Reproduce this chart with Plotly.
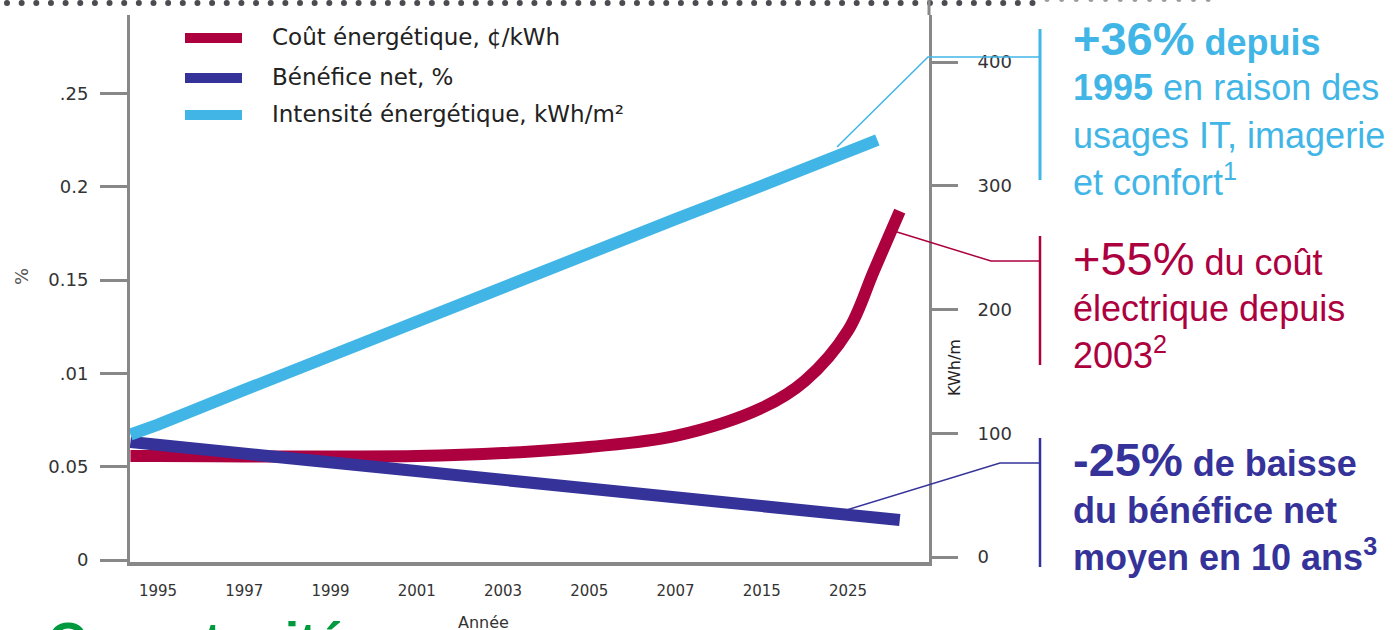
import plotly.graph_objects as go

# ---------------- data ----------------
years = ["1995", "1997", "1999", "2001", "2003", "2005", "2007", "2015", "2025"]
year_pos = [0, 1, 2, 3, 4, 5, 6, 7, 8]

# Intensité énergétique, kWh/m² (right axis)
intensity_x = [-0.32, 0, 1, 2, 3, 4, 5, 6, 7, 8, 8.34]
intensity_y = [99, 107, 135, 163, 190, 218, 245, 273, 300, 328, 337]

# Bénéfice net, % (left axis)
profit_x = [-0.32, 0, 1, 2, 3, 4, 5, 6, 7, 8, 8.6]
profit_y = [0.0632, 0.0617, 0.0571, 0.0524, 0.0477, 0.0430, 0.0384, 0.0337, 0.0290, 0.0244, 0.0214]

# Coût énergétique, ¢/kWh (left axis)
cost_x = [-0.32, 0, 1, 2, 3, 4, 5, 6, 7, 7.5, 8, 8.3, 8.6]
cost_y = [0.0557, 0.0557, 0.0555, 0.0555, 0.0557, 0.0573, 0.0606, 0.0665, 0.0815, 0.096, 0.123, 0.155, 0.187]

left_tickvals = [0, 0.05, 0.10, 0.15, 0.20, 0.25]
left_ticktext = ["0", "0.05", ".01", "0.15", "0.2", ".25"]
right_tickvals = [0, 100, 200, 300, 400]
right_ticktext = ["0", "100", "200", "300", "400"]

legend_labels = ["Coût énergétique, ¢/kWh", "Bénéfice net, %", "Intensité énergétique, kWh/m²"]

# ---------------- styles ----------------
RED = "#ad003f"
DBLUE = "#35339a"
LBLUE = "#41b6e6"
AXIS = "#888888"
TICKFONT = "DejaVu Sans"
ARIAL = "Liberation Sans"

W, H = 1399, 630
L, R, T, B = 130, 470, 15, 68
PW, PH = W - L - R, H - T - B


def px(xp):
    return (xp - L) / PW


def py(yp):
    return (H - B - yp) / PH


fig = go.Figure()
fig.add_trace(go.Scatter(x=intensity_x, y=intensity_y, yaxis="y2", mode="lines",
                         line=dict(color=LBLUE, width=12), name=legend_labels[2], showlegend=False))
fig.add_trace(go.Scatter(x=cost_x, y=cost_y, mode="lines",
                         line=dict(color=RED, width=12, shape="spline", smoothing=1.0),
                         name=legend_labels[0], showlegend=False))
fig.add_trace(go.Scatter(x=profit_x, y=profit_y, mode="lines",
                         line=dict(color=DBLUE, width=12), name=legend_labels[1], showlegend=False))

shapes = []
annotations = []

# dotted rule at top
for k in range(71):
    cx = 7 + 14.65 * k
    shapes.append(dict(type="circle", xref="paper", yref="paper",
                       x0=px(cx - 3), x1=px(cx + 3), y0=py(6), y1=py(0),
                       fillcolor="#4b4b50", line=dict(width=0)))
for k in range(12):
    cx = 1047 + 14.65 * k
    shapes.append(dict(type="circle", xref="paper", yref="paper",
                       x0=px(cx - 2.5), x1=px(cx + 2.5), y0=py(2), y1=py(-3),
                       fillcolor="#9a9aa0", line=dict(width=0)))

# right axis extension to top
shapes.append(dict(type="line", xref="paper", yref="paper", x0=1, x1=1, y0=1, y1=py(0),
                   line=dict(color=AXIS, width=3)))

# legend swatches + labels
legend_colors = [RED, DBLUE, LBLUE]
legend_y = [38, 78, 115]
for lab, col, yy in zip(legend_labels, legend_colors, legend_y):
    shapes.append(dict(type="line", xref="paper", yref="paper", x0=px(185), x1=px(242),
                       y0=py(yy), y1=py(yy), line=dict(color=col, width=10)))
    annotations.append(dict(text=lab, xref="paper", yref="paper", x=px(270), y=py(yy - 1),
                            xanchor="left", yanchor="middle", showarrow=False,
                            font=dict(family=TICKFONT, size=23, color="#222222")))

# connectors and bars
def path(points):
    return "M " + " L ".join(f"{px(a)},{py(b)}" for a, b in points)

shapes.append(dict(type="path", xref="paper", yref="paper",
                   path=path([(837, 147), (928, 57), (1040, 57)]), line=dict(color=LBLUE, width=1.5)))
shapes.append(dict(type="line", xref="paper", yref="paper", x0=px(1040), x1=px(1040),
                   y0=py(29), y1=py(180), line=dict(color=LBLUE, width=3)))
shapes.append(dict(type="path", xref="paper", yref="paper",
                   path=path([(897, 232), (991, 261), (1040, 261)]), line=dict(color=RED, width=1.5)))
shapes.append(dict(type="line", xref="paper", yref="paper", x0=px(1040), x1=px(1040),
                   y0=py(236), y1=py(365), line=dict(color=RED, width=2.5)))
shapes.append(dict(type="path", xref="paper", yref="paper",
                   path=path([(840, 512), (1000, 463), (1040, 463)]), line=dict(color=DBLUE, width=1.5)))
shapes.append(dict(type="line", xref="paper", yref="paper", x0=px(1040), x1=px(1040),
                   y0=py(438), y1=py(567), line=dict(color=DBLUE, width=2.5)))

# right-hand text blocks
BIG = "<span style='font-size:47px'>{}</span>"
blocks = [
    (LBLUE, [("<b>" + BIG.format("+36%") + " depuis</b>", 39),
             ("<b>1995</b> en raison des", 88),
             ("usages IT, imagerie", 135),
             ("et confort<sup>1</sup>", 180)]),
    (RED, [(BIG.format("+55%") + " du coût", 258),
           ("électrique depuis", 308),
           ("2003<sup>2</sup>", 353)]),
    (DBLUE, [("<b>" + BIG.format("-25%") + " de baisse</b>", 459),
             ("<b>du bénéfice net</b>", 510),
             ("<b>moyen en 10 ans<sup>3</sup></b>", 555)]),
]
for col, lines in blocks:
    for txt, yy in lines:
        annotations.append(dict(text=txt, xref="paper", yref="paper", x=px(1071), y=py(yy),
                                xanchor="left", yanchor="middle", showarrow=False,
                                font=dict(family=ARIAL, size=36, color=col)))

# other labels
annotations.append(dict(text="KWh/m", xref="paper", yref="paper", x=px(955), y=py(367),
                        textangle=-90, showarrow=False, xanchor="center", yanchor="middle",
                        font=dict(family=TICKFONT, size=16, color="#222222")))
annotations.append(dict(text="%", xref="paper", yref="paper", x=px(21), y=py(277),
                        textangle=-90, showarrow=False, xanchor="center", yanchor="middle",
                        font=dict(family=TICKFONT, size=18, color="#555555")))
annotations.append(dict(text="Année", xref="paper", yref="paper", x=px(483), y=py(611),
                        showarrow=False, xanchor="center", yanchor="top",
                        font=dict(family=TICKFONT, size=16, color="#333333")))
annotations.append(dict(text="<b>Opportunités</b>", xref="paper", yref="paper", x=px(46), y=py(610),
                        showarrow=False, xanchor="left", yanchor="top",
                        font=dict(family=ARIAL, size=52, color="#009a3e")))

fig.update_layout(
    width=W, height=H,
    margin=dict(l=L, r=R, t=T, b=B, autoexpand=False),
    paper_bgcolor="white", plot_bgcolor="white",
    showlegend=False,
    shapes=shapes,
    annotations=annotations,
    xaxis=dict(range=[-0.325, -0.325 + PW / 86.25], tickvals=year_pos, ticktext=years,
               showgrid=False, zeroline=False, showline=True, linecolor=AXIS, linewidth=4,
               ticks="", ticklabelstandoff=12,
               tickfont=dict(family=TICKFONT, size=15, color="#333333")),
    yaxis=dict(range=[-0.00107, -0.00107 + PH / 1866], tickvals=left_tickvals, ticktext=left_ticktext,
               showgrid=False, zeroline=False, showline=True, linecolor=AXIS, linewidth=3,
               ticks="outside", ticklen=27, tickwidth=3, tickcolor=AXIS, ticklabelstandoff=8,
               tickfont=dict(family=TICKFONT, size=18, color="#333333")),
    yaxis2=dict(range=[-4.04, -4.04 + PH / 1.2375], tickvals=right_tickvals, ticktext=right_ticktext,
                overlaying="y", side="right",
                showgrid=False, zeroline=False, showline=True, linecolor=AXIS, linewidth=3,
                ticks="outside", ticklen=26, tickwidth=3, tickcolor=AXIS, ticklabelstandoff=16,
                tickfont=dict(family=TICKFONT, size=18, color="#333333")),
)

fig.write_html("out.html", config={"displayModeBar": False},
               post_script="document.body.style.margin='0';")
